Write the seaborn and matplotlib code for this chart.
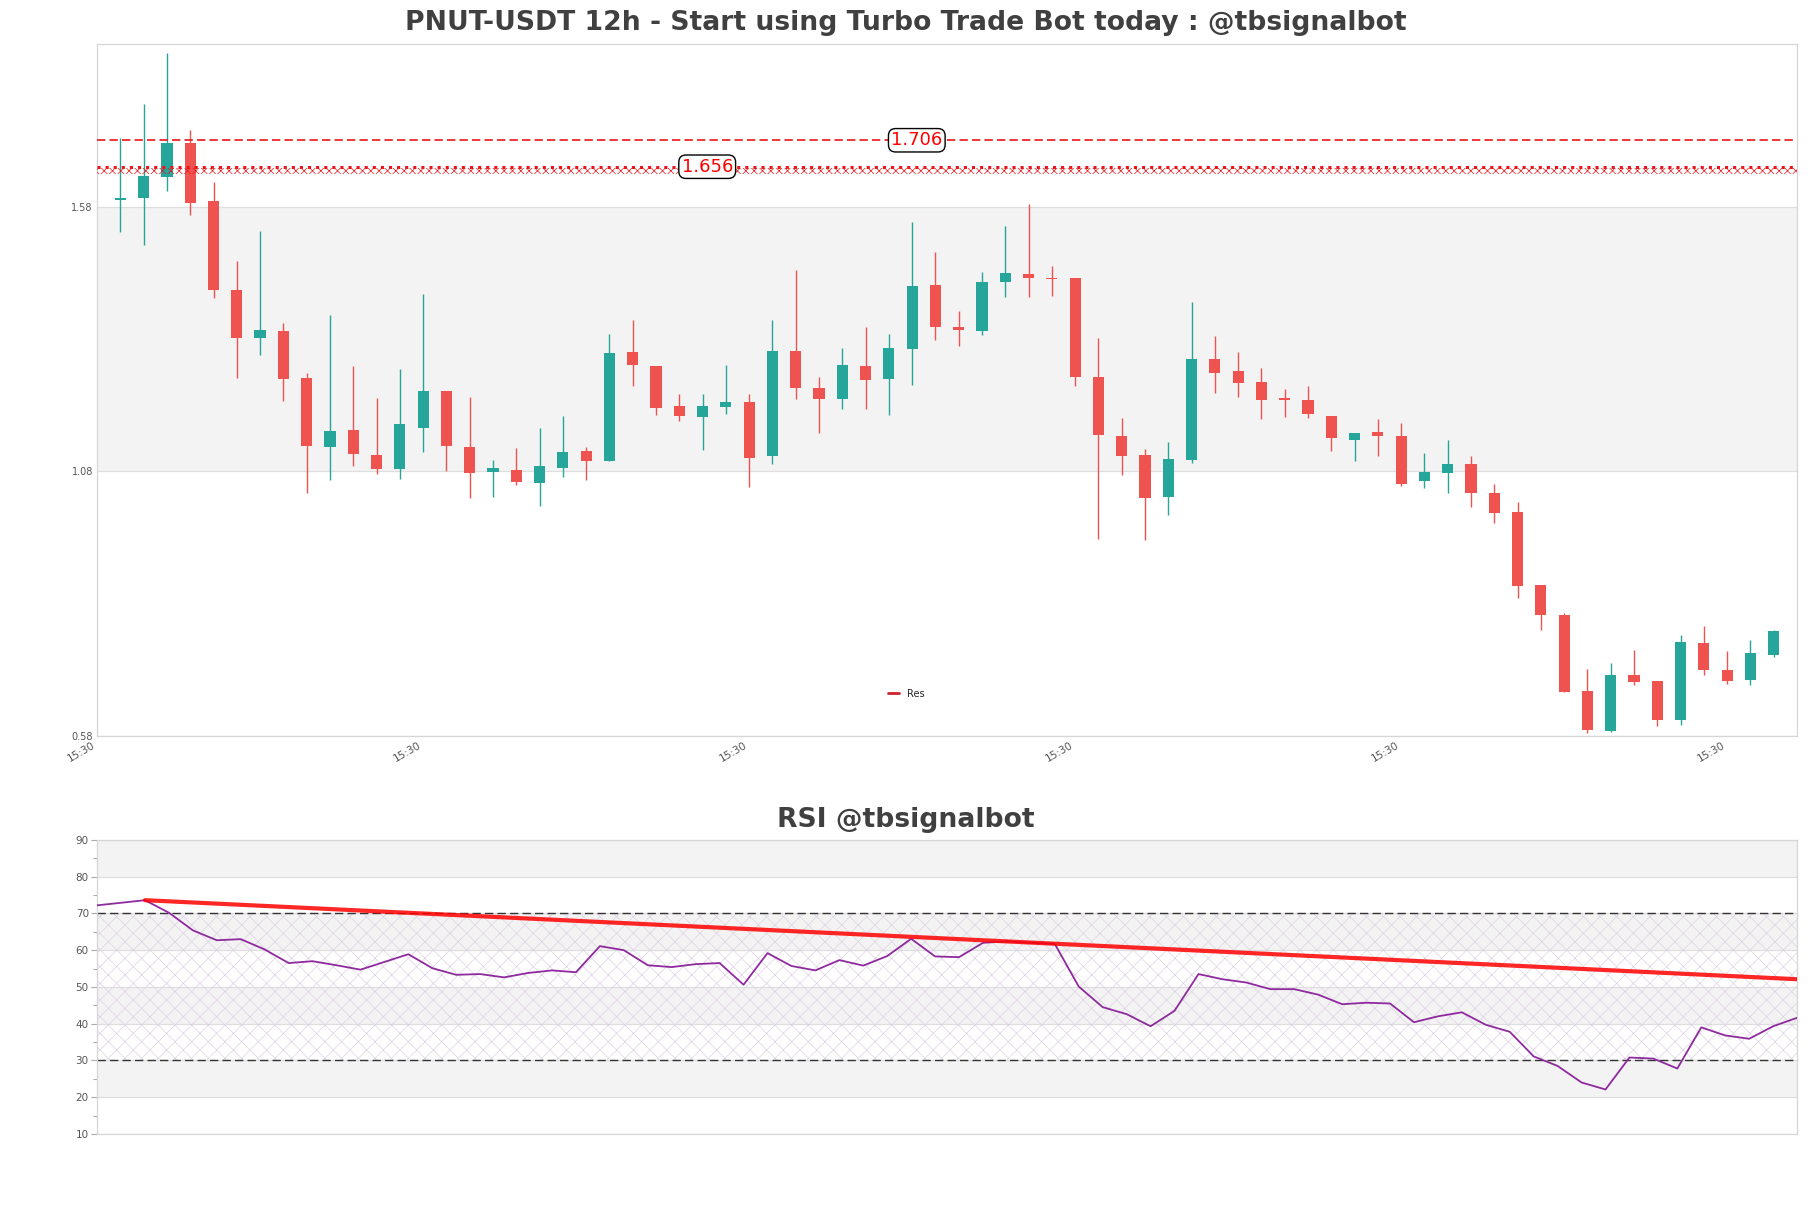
import numpy as np
import pandas as pd
import matplotlib
matplotlib.use("Agg")
import matplotlib.pyplot as plt
import seaborn as sns
from matplotlib.lines import Line2D

# ---------------- data ----------------
opens = [1.5930, 1.596, 1.636, 1.700, 1.591, 1.423, 1.332, 1.346, 1.256, 1.126,
         1.159, 1.112, 1.085, 1.163, 1.233, 1.126, 1.079, 1.083, 1.058, 1.087,
         1.118, 1.100, 1.305, 1.280, 1.203, 1.183, 1.202, 1.212, 1.110, 1.308,
         1.237, 1.217, 1.279, 1.254, 1.312, 1.433, 1.353, 1.345, 1.438, 1.454,
         1.4445, 1.445, 1.258, 1.148, 1.112, 1.032, 1.102, 1.293, 1.269, 1.250,
         1.218, 1.216, 1.184, 1.140, 1.154, 1.147, 1.062, 1.077, 1.095, 1.040,
         1.003, 0.865, 0.809, 0.666, 0.590, 0.695, 0.684, 0.611, 0.756, 0.705,
         0.685, 0.733]
highs = [1.7096, 1.775, 1.870, 1.725, 1.627, 1.478, 1.535, 1.361, 1.267, 1.376,
         1.280, 1.219, 1.274, 1.416, 1.233, 1.221, 1.101, 1.124, 1.163, 1.184,
         1.127, 1.340, 1.367, 1.280, 1.226, 1.227, 1.282, 1.226, 1.367, 1.460,
         1.258, 1.314, 1.354, 1.340, 1.551, 1.495, 1.384, 1.457, 1.544, 1.586,
         1.469, 1.445, 1.333, 1.182, 1.123, 1.135, 1.401, 1.336, 1.306, 1.276,
         1.235, 1.241, 1.184, 1.153, 1.179, 1.171, 1.115, 1.139, 1.110, 1.056,
         1.022, 0.865, 0.812, 0.707, 0.718, 0.742, 0.684, 0.771, 0.788, 0.740,
         0.761, 0.780]
lows = [1.5329, 1.509, 1.610, 1.565, 1.408, 1.257, 1.301, 1.213, 1.040, 1.064,
        1.091, 1.076, 1.066, 1.117, 1.080, 1.029, 1.032, 1.055, 1.014, 1.070,
        1.064, 1.100, 1.242, 1.187, 1.175, 1.120, 1.189, 1.051, 1.094, 1.217,
        1.152, 1.199, 1.199, 1.187, 1.243, 1.328, 1.317, 1.338, 1.409, 1.409,
        1.411, 1.242, 0.953, 1.073, 0.951, 0.997, 1.096, 1.228, 1.221, 1.179,
        1.183, 1.181, 1.119, 1.100, 1.110, 1.053, 1.049, 1.040, 1.013, 0.983,
        0.840, 0.780, 0.664, 0.585, 0.588, 0.676, 0.599, 0.600, 0.695, 0.678,
        0.676, 0.730]
closes = [1.5935, 1.638, 1.700, 1.588, 1.423, 1.332, 1.348, 1.254, 1.128, 1.156,
          1.113, 1.084, 1.169, 1.233, 1.128, 1.078, 1.086, 1.061, 1.090, 1.116,
          1.100, 1.303, 1.281, 1.200, 1.184, 1.203, 1.212, 1.105, 1.308, 1.237,
          1.217, 1.282, 1.253, 1.314, 1.431, 1.353, 1.347, 1.439, 1.455, 1.445,
          1.443, 1.258, 1.149, 1.110, 1.030, 1.103, 1.293, 1.266, 1.247, 1.215,
          1.2155, 1.189, 1.143, 1.152, 1.147, 1.057, 1.079, 1.095, 1.039, 1.002,
          0.864, 0.808, 0.664, 0.592, 0.695, 0.683, 0.611, 0.758, 0.704, 0.684,
          0.736, 0.778]

rsi = [72.2, 72.9, 73.6, 70.2, 65.4, 62.7, 63.0, 60.2, 56.5, 57.0,
       55.9, 54.7, 56.8, 58.9, 55.1, 53.3, 53.5, 52.6, 53.8, 54.5,
       54.0, 61.1, 60.0, 55.9, 55.4, 56.2, 56.5, 50.6, 59.2, 55.7,
       54.5, 57.3, 55.8, 58.4, 63.1, 58.3, 58.1, 62.0, 62.4, 62.0,
       61.7, 50.1, 44.5, 42.6, 39.3, 43.5, 53.5, 52.1, 51.2, 49.4,
       49.4, 47.9, 45.3, 45.7, 45.5, 40.4, 42.0, 43.1, 39.7, 37.8,
       31.1, 28.5, 24.0, 22.1, 30.8, 30.5, 27.8, 39.0, 36.8, 35.9,
       39.3, 41.6]

trend_x = [2, 71]
trend_y = [73.6, 52.1]

res_levels = [1.706, 1.656]
res_label_x = [34.2, 25.2]
price_ticks = [0.58, 1.08, 1.58]
time_tick_pos = [-1, 13, 27, 41, 55, 69]
time_tick_labels = ["15:30"] * 6
rsi_ticks = [10, 20, 30, 40, 50, 60, 70, 80, 90]

title_main = "PNUT-USDT 12h - Start using Turbo Trade Bot today : @tbsignalbot"
title_rsi = "RSI @tbsignalbot"

# ---------------- style ----------------
sns.set_theme(style="white")
plt.rcParams["font.family"] = ["DejaVu Sans"]
plt.rcParams["hatch.linewidth"] = 0.5

UP = "#26a69a"
DOWN = "#ef5350"
BAND = "#f3f3f3"
GRID = "#dedede"
SPINE = "#d6d6d6"
TXT = "#555555"

fig = plt.figure(figsize=(18.11, 12.08), dpi=100)
ax = fig.add_axes([0.0536, 0.3907, 0.9387, 0.5729])
ax2 = fig.add_axes([0.0536, 0.0613, 0.9387, 0.2434])

df = pd.DataFrame({"open": opens, "high": highs, "low": lows, "close": closes})
df["x"] = np.arange(len(df))
df["up"] = df["close"] >= df["open"]
cols = np.where(df["up"], UP, DOWN)

# ---------------- main price panel ----------------
ax.axhspan(1.08, 1.58, color=BAND, zorder=0, lw=0)
for t in price_ticks:
    ax.axhline(t, color=GRID, lw=0.9, zorder=0.5)

ax.vlines(df["x"], df["low"], df["high"], colors=cols, lw=1.0, zorder=2)
body_bottom = np.minimum(df["open"], df["close"])
body_h = np.maximum(np.abs(df["close"] - df["open"]), 0.003)
ax.bar(df["x"], body_h, bottom=body_bottom, width=0.48, color=cols, lw=0, zorder=3)

# resistance lines
ax.axhline(res_levels[0], color="#e8161b", lw=1.2, ls=(0, (5, 2.5)), zorder=4)
ax.axhline(res_levels[1], color="#e8161b", lw=2.2, ls=":", zorder=4)
ax.axhspan(res_levels[1] - 0.013, res_levels[1] - 0.002, facecolor="none",
           edgecolor="#e8161b", hatch="xxxx", lw=0, zorder=4)
for lvl, lx in zip(res_levels, res_label_x):
    ax.text(lx, lvl, f"{lvl:.3f}", color="red", fontsize=13, ha="center", va="center",
            zorder=6,
            bbox=dict(boxstyle="round,pad=0.15,rounding_size=0.4", fc="white", ec="black", lw=1))

leg = ax.legend(handles=[Line2D([], [], color="#d0202a", lw=2)], labels=["Res"],
                loc="center", bbox_to_anchor=(0.476, 0.061), frameon=False,
                fontsize=7, handlelength=1.1, handletextpad=0.8)

ax.set_xlim(-1, len(df))
ax.set_ylim(0.58, 1.888)
ax.set_yticks(price_ticks)
ax.set_yticklabels([f"{t:.2f}" for t in price_ticks], fontsize=7, color=TXT)
ax.set_xticks(time_tick_pos)
ax.set_xticklabels(time_tick_labels, rotation=30, ha="right", fontsize=7.5, color=TXT)
ax.tick_params(axis="both", length=0, pad=3)
for s in ax.spines.values():
    s.set_color(SPINE)
    s.set_linewidth(0.9)

# ---------------- RSI panel ----------------
for lo in [20, 40, 60, 80]:
    ax2.axhspan(lo, lo + 10, color=BAND, zorder=0, lw=0)
ax2.axhspan(30, 70, facecolor="none", edgecolor="#ddd2e4", hatch="xx", lw=0, zorder=0.6)
for t in rsi_ticks:
    ax2.axhline(t, color=GRID, lw=0.9, zorder=0.5)
ax2.axhline(70, color="#333333", lw=1.0, ls=(0, (6, 3)), zorder=2)
ax2.axhline(30, color="#333333", lw=1.0, ls=(0, (6, 3)), zorder=2)

rsi_df = pd.DataFrame({"x": np.arange(len(rsi)), "rsi": rsi})
sns.lineplot(data=rsi_df, x="x", y="rsi", ax=ax2, color="#8e2a9e", lw=1.3, zorder=3)
ax2.plot(trend_x, trend_y, color="#ff0000", lw=3, alpha=0.85, zorder=4,
         solid_capstyle="round")

ax2.set_xlim(0, len(rsi) - 1)
ax2.set_ylim(10, 90)
ax2.set_yticks(rsi_ticks)
ax2.set_yticks(np.arange(15, 90, 10), minor=True)
ax2.set_yticklabels([str(t) for t in rsi_ticks], fontsize=7.5, color=TXT)
ax2.set_xticks([])
ax2.set_xlabel("")
ax2.set_ylabel("")
ax2.tick_params(axis="y", which="major", left=True, length=4, color="#aaaaaa", width=0.8, pad=2)
ax2.tick_params(axis="y", which="minor", left=True, length=3, color="#aaaaaa", width=0.8)
for s in ax2.spines.values():
    s.set_color(SPINE)
    s.set_linewidth(0.9)

fig.text(0.5, 0.981, title_main, ha="center", va="center", fontsize=19.2,
         fontweight="bold", color="#404040")
fig.text(0.5, 0.3212, title_rsi, ha="center", va="center", fontsize=19.2,
         fontweight="bold", color="#404040")

fig.savefig("out.png", dpi=100)
